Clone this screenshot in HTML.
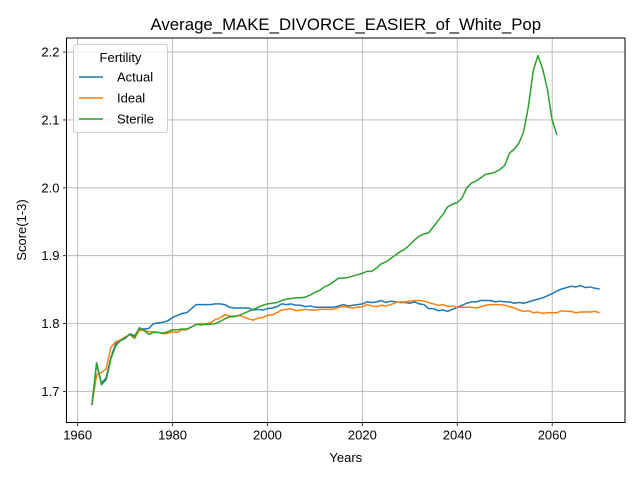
<!DOCTYPE html>
<html><head><meta charset="utf-8"><style>
body{margin:0;background:#fff;}
svg{display:block;font-family:"Liberation Sans","DejaVu Sans",sans-serif;}
</style></head><body>
<svg id="chart" width="640" height="480" viewBox="0 0 640 480">
<rect width="640" height="480" fill="#fff"/>
<g id="grid"></g>
<g id="series"></g>
<rect x="66.5" y="38" width="558.5" height="384.5" fill="none" stroke="#000" stroke-width="1"/>
<g id="xticks"></g>
<g id="yticks"></g>
<text x="345.8" y="30" text-anchor="middle" font-size="16.8">Average_MAKE_DIVORCE_EASIER_of_White_Pop</text>
<text x="345.8" y="462" text-anchor="middle" font-size="13">Years</text>
<text x="26" y="230" text-anchor="middle" font-size="13" transform="rotate(-90 26 230)">Score(1-3)</text>
<g>
<rect x="73.5" y="44.5" width="94" height="88" rx="3" fill="#fff" fill-opacity="0.8" stroke="#ccc"/>
<text x="120.5" y="62" text-anchor="middle" font-size="13">Fertility</text>
<g id="legend-items"></g>
</g>
</svg>
<script>
const years0 = 1963;
const actual = [1.68,1.742,1.712,1.72,1.75,1.77,1.775,1.778,1.785,1.782,1.792,1.792,1.793,1.8,1.801,1.802,1.804,1.809,1.812,1.815,1.816,1.822,1.828,1.828,1.828,1.828,1.829,1.829,1.828,1.824,1.823,1.823,1.823,1.823,1.82,1.821,1.82,1.822,1.823,1.825,1.829,1.828,1.829,1.827,1.827,1.825,1.826,1.824,1.824,1.824,1.824,1.824,1.826,1.828,1.826,1.827,1.828,1.829,1.832,1.831,1.832,1.834,1.831,1.833,1.832,1.831,1.831,1.83,1.832,1.829,1.828,1.822,1.822,1.819,1.82,1.818,1.821,1.824,1.827,1.83,1.832,1.832,1.834,1.834,1.834,1.832,1.833,1.832,1.832,1.83,1.831,1.83,1.832,1.834,1.836,1.838,1.841,1.844,1.848,1.851,1.853,1.855,1.854,1.856,1.853,1.854,1.852,1.851];
const ideal = [1.68,1.725,1.728,1.733,1.765,1.773,1.776,1.78,1.784,1.778,1.79,1.79,1.788,1.788,1.787,1.785,1.786,1.788,1.787,1.791,1.791,1.795,1.799,1.8,1.8,1.801,1.806,1.808,1.813,1.811,1.811,1.812,1.81,1.807,1.805,1.808,1.809,1.812,1.813,1.816,1.82,1.821,1.822,1.819,1.82,1.821,1.82,1.82,1.821,1.821,1.821,1.821,1.824,1.825,1.824,1.823,1.824,1.825,1.828,1.826,1.825,1.827,1.826,1.828,1.831,1.832,1.832,1.833,1.834,1.834,1.833,1.831,1.829,1.827,1.828,1.825,1.826,1.824,1.824,1.824,1.824,1.823,1.825,1.827,1.828,1.828,1.828,1.827,1.825,1.823,1.82,1.818,1.819,1.816,1.817,1.815,1.816,1.816,1.816,1.819,1.818,1.818,1.816,1.817,1.817,1.817,1.818,1.816];
const sterile = [1.68,1.742,1.71,1.717,1.748,1.767,1.775,1.779,1.784,1.78,1.794,1.79,1.784,1.787,1.787,1.786,1.788,1.791,1.791,1.792,1.792,1.795,1.799,1.798,1.799,1.799,1.8,1.803,1.807,1.81,1.81,1.812,1.815,1.818,1.821,1.824,1.827,1.829,1.83,1.831,1.834,1.836,1.837,1.838,1.838,1.839,1.842,1.846,1.849,1.854,1.857,1.862,1.867,1.867,1.868,1.87,1.872,1.874,1.877,1.877,1.882,1.888,1.891,1.896,1.901,1.906,1.91,1.916,1.923,1.929,1.932,1.934,1.943,1.952,1.961,1.972,1.976,1.978,1.985,2.0,2.007,2.01,2.015,2.02,2.021,2.023,2.027,2.033,2.051,2.057,2.066,2.083,2.12,2.172,2.195,2.175,2.145,2.1,2.078];
const seriesNames = ["Actual","Ideal","Sterile"];
const xTickLabels = [1960,1980,2000,2020,2040,2060];
const yTickLabels = [1.7,1.8,1.9,2.0,2.1,2.2];

const NS="http://www.w3.org/2000/svg";
const L=66.5,R=625,T=38,B=422.5;
const xMin=1957.65,xMax=2075.35,yMin=1.6543,yMax=2.2207;
function xs(v){return L+(v-xMin)/(xMax-xMin)*(R-L);}
function ys(v){return B-(v-yMin)/(yMax-yMin)*(B-T);}
function mk(tag,attrs,parent){const e=document.createElementNS(NS,tag);for(const k in attrs)e.setAttribute(k,attrs[k]);parent.appendChild(e);return e;}
const grid=document.getElementById('grid'),xt=document.getElementById('xticks'),yt=document.getElementById('yticks');
xTickLabels.forEach(v=>{const x=xs(v);
 const g=mk('line',{x1:x,x2:x,y1:T,y2:B,stroke:'#b0b0b0','stroke-width':0.8},grid);
 
 
 const t=mk('line',{x1:x,x2:x,y1:B,y2:B+3.5,stroke:'#000','stroke-width':0.8},xt);
 
 
 const l=mk('text',{x:x,y:B+17,'text-anchor':'middle','font-size':'13'},xt);l.textContent=v;
 
 
});
yTickLabels.forEach(v=>{const y=ys(v);
 const g=mk('line',{x1:L,x2:R,y1:y,y2:y,stroke:'#b0b0b0','stroke-width':0.8},grid);
 
 
 const t=mk('line',{x1:L-3.5,x2:L,y1:y,y2:y,stroke:'#000','stroke-width':0.8},yt);
 
 
 const l=mk('text',{x:L-7,y:y+4.5,'text-anchor':'end','font-size':'13'},yt);l.textContent=v.toFixed(1);
 
 
});
const colors=['#1f77b4','#ff7f0e','#2ca02c'];
const sg=document.getElementById('series');
[actual,ideal,sterile].forEach((arr,i)=>{
 const pts=arr.map((v,j)=>xs(years0+j).toFixed(2)+','+ys(v).toFixed(2)).join(' ');
 const p=mk('polyline',{points:pts,fill:'none',stroke:colors[i],'stroke-width':1.5,'stroke-linejoin':'round'},sg);
 
 
});
const lg=document.getElementById('legend-items');
seriesNames.forEach((n,i)=>{const y=77+i*21;
 const g=mk('g',{},lg);
 
 
 mk('line',{x1:79,x2:103,y1:y,y2:y,stroke:colors[i],'stroke-width':1.5},g);
 const t=mk('text',{x:117,y:y+4.5,'font-size':'13'},g);t.textContent=n;
});
</script>
</body></html>
